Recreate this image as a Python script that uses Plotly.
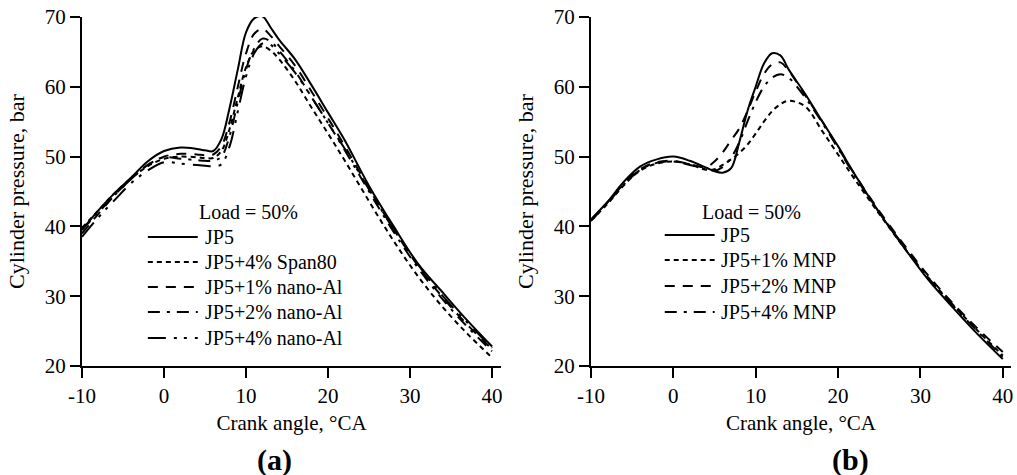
import plotly.graph_objects as go

# Crank angle (°CA)
crank = [-10, -8, -6, -4, -2, 0, 2, 4, 5, 6, 7, 8, 9, 10, 11, 12, 13, 14, 16, 18, 20, 22, 25, 28, 31, 34, 37, 40]

# Panel (a) cylinder pressure, bar
a_jp5 =      [39.5, 42.3, 44.8, 47.0, 49.3, 50.8, 51.3, 51.1, 50.9, 50.8, 52.5, 57.0, 62.5, 67.8, 69.8, 70.1, 68.5, 66.8, 63.9, 60.2, 56.3, 52.4, 45.8, 40.0, 34.6, 30.5, 26.5, 22.8]
a_span80 =   [39.8, 42.3, 44.8, 46.9, 48.6, 49.7, 50.0, 49.9, 49.8, 49.8, 50.8, 54.0, 58.5, 62.8, 65.2, 65.8, 65.2, 64.0, 60.8, 57.0, 53.3, 49.5, 43.6, 37.9, 32.8, 28.4, 24.6, 21.2]
a_al1 =      [39.0, 41.8, 44.5, 46.8, 48.8, 50.0, 50.4, 50.3, 50.2, 50.3, 51.5, 55.0, 60.0, 64.8, 67.6, 68.3, 67.3, 65.9, 63.0, 59.3, 55.5, 51.6, 45.4, 39.6, 34.3, 29.8, 25.9, 22.4]
a_al2 =      [39.5, 42.0, 44.5, 46.8, 48.8, 49.9, 49.7, 49.5, 49.4, 49.4, 50.0, 53.0, 57.8, 62.5, 65.5, 66.9, 66.5, 65.2, 62.2, 58.5, 54.8, 51.0, 45.0, 39.2, 34.0, 29.5, 25.6, 22.1]
a_al4 =      [38.5, 41.3, 43.8, 46.2, 48.0, 49.2, 49.0, 48.8, 48.7, 48.6, 48.9, 51.5, 56.5, 61.5, 64.8, 66.2, 66.0, 64.8, 62.0, 58.5, 54.8, 51.2, 45.3, 39.6, 34.5, 30.0, 26.2, 22.6]

# Panel (b) cylinder pressure, bar
b_jp5 =  [41.0, 43.5, 46.4, 48.6, 49.6, 50.0, 49.4, 48.4, 47.9, 47.7, 48.3, 52.0, 56.5, 60.0, 63.3, 64.8, 64.5, 62.5, 59.0, 55.2, 51.5, 47.5, 42.0, 37.0, 32.3, 28.3, 24.5, 21.0]
b_mnp1 = [40.8, 43.2, 45.9, 48.0, 49.0, 49.3, 48.9, 48.1, 48.2, 48.8, 49.6, 50.5, 51.7, 53.3, 55.0, 56.5, 57.5, 58.0, 57.2, 53.8, 50.3, 46.8, 41.8, 37.0, 32.6, 28.7, 25.0, 21.5]
b_mnp2 = [40.9, 43.4, 46.1, 48.2, 49.2, 49.4, 48.9, 48.5, 49.3, 50.6, 52.3, 54.0, 56.5, 59.3, 61.8, 63.2, 63.5, 62.3, 58.8, 55.2, 51.3, 47.5, 42.2, 37.4, 32.9, 28.9, 25.3, 22.0]
b_mnp4 = [40.8, 43.3, 46.0, 48.1, 49.1, 49.3, 48.8, 48.2, 48.0, 48.5, 49.8, 52.0, 55.0, 57.8, 60.0, 61.3, 61.8, 61.3, 58.5, 55.0, 51.2, 47.3, 42.0, 37.2, 32.6, 28.6, 24.9, 21.3]

names_a = ["JP5", "JP5+4% Span80", "JP5+1% nano-Al", "JP5+2% nano-Al", "JP5+4% nano-Al"]
names_b = ["JP5", "JP5+1% MNP", "JP5+2% MNP", "JP5+4% MNP"]

x_ticks = [-10, 0, 10, 20, 30, 40]
x_ticktext = ["-10", "0", "10", "20", "30", "40"]
y_ticks = [20, 30, 40, 50, 60, 70]

dash_a = ["solid", "5px,4px", "10px,8px", "12px,7px,3px,7px", "18px,8px,3px,7px,3px,8px"]
dash_b = ["solid", "5px,4px", "10px,8px", "12px,7px,3px,7px"]

FONT = "Liberation Serif"
fig = go.Figure()

for ys, nm, ds in zip([a_jp5, a_span80, a_al1, a_al2, a_al4], names_a, dash_a):
    fig.add_trace(go.Scatter(x=crank, y=ys, name=nm, mode="lines", line_shape="spline",
                             line=dict(color="black", width=2, dash=ds),
                             xaxis="x", yaxis="y", showlegend=False))
for ys, nm, ds in zip([b_jp5, b_mnp1, b_mnp2, b_mnp4], names_b, dash_b):
    fig.add_trace(go.Scatter(x=crank, y=ys, name=nm, mode="lines", line_shape="spline",
                             line=dict(color="black", width=2, dash=ds),
                             xaxis="x2", yaxis="y2", showlegend=False))

W, H = 1017, 475
ml, mr, mt, mb = 82, 4, 17, 109
pw = W - ml - mr
ph = H - mt - mb

def px_x(p):
    return (p - ml) / pw

def px_y(p):
    return (H - mb - p) / ph

axis_common = dict(showline=True, linecolor="black", linewidth=2, ticks="outside",
                   ticklen=10, tickwidth=2, tickcolor="black", showgrid=False, zeroline=False,
                   tickfont=dict(family=FONT, size=21, color="black"))

xa = dict(axis_common, range=[-10, 41.1], tickvals=x_ticks, ticktext=x_ticktext,
          title=dict(text="Crank angle, °CA", font=dict(family=FONT, size=21, color="black"), standoff=8))
ya = dict(axis_common, range=[20, 70], tickvals=y_ticks,
          title=dict(text="Cylinder pressure, bar", font=dict(family=FONT, size=22, color="black"), standoff=14))

shapes = []
annotations = []

def add_legend(title_cx, title_y, line_x0, line_x1, text_x, rows, names, dashes):
    annotations.append(dict(text="Load = 50%", x=px_x(title_cx), y=px_y(title_y), xref="paper", yref="paper",
                            xanchor="center", yanchor="middle", showarrow=False,
                            font=dict(family=FONT, size=20, color="black")))
    for ry, nm, ds in zip(rows, names, dashes):
        shapes.append(dict(type="line", xref="paper", yref="paper",
                           x0=px_x(line_x0), x1=px_x(line_x1), y0=px_y(ry), y1=px_y(ry),
                           line=dict(color="black", width=2, dash=ds)))
        annotations.append(dict(text=nm, x=px_x(text_x), y=px_y(ry), xref="paper", yref="paper",
                                xanchor="left", yanchor="middle", showarrow=False,
                                font=dict(family=FONT, size=20, color="black")))

add_legend(249, 212, 148, 198, 203, [237, 262, 287, 312, 338], names_a, dash_a)
add_legend(753, 212, 666, 716, 720, [235, 260, 286, 312], names_b, dash_b)

annotations.append(dict(text="<b>(a)</b>", x=px_x(275), y=px_y(460), xref="paper", yref="paper",
                        xanchor="center", yanchor="middle", showarrow=False,
                        font=dict(family=FONT, size=30, color="black")))
annotations.append(dict(text="<b>(b)</b>", x=px_x(852), y=px_y(460), xref="paper", yref="paper",
                        xanchor="center", yanchor="middle", showarrow=False,
                        font=dict(family=FONT, size=30, color="black")))

fig.update_layout(
    width=W, height=H, margin=dict(l=ml, r=mr, t=mt, b=mb),
    paper_bgcolor="white", plot_bgcolor="white",
    font=dict(family=FONT, size=20, color="black"),
    xaxis=dict(xa, domain=[0, px_x(502)], anchor="y"),
    yaxis=dict(ya, domain=[0, 1], anchor="x"),
    xaxis2=dict(xa, domain=[px_x(592), 1], anchor="y2", range=[-10, 41.0]),
    yaxis2=dict(ya, domain=[0, 1], anchor="x2"),
    shapes=shapes,
    annotations=annotations,
)

fig.write_html("out.html")
